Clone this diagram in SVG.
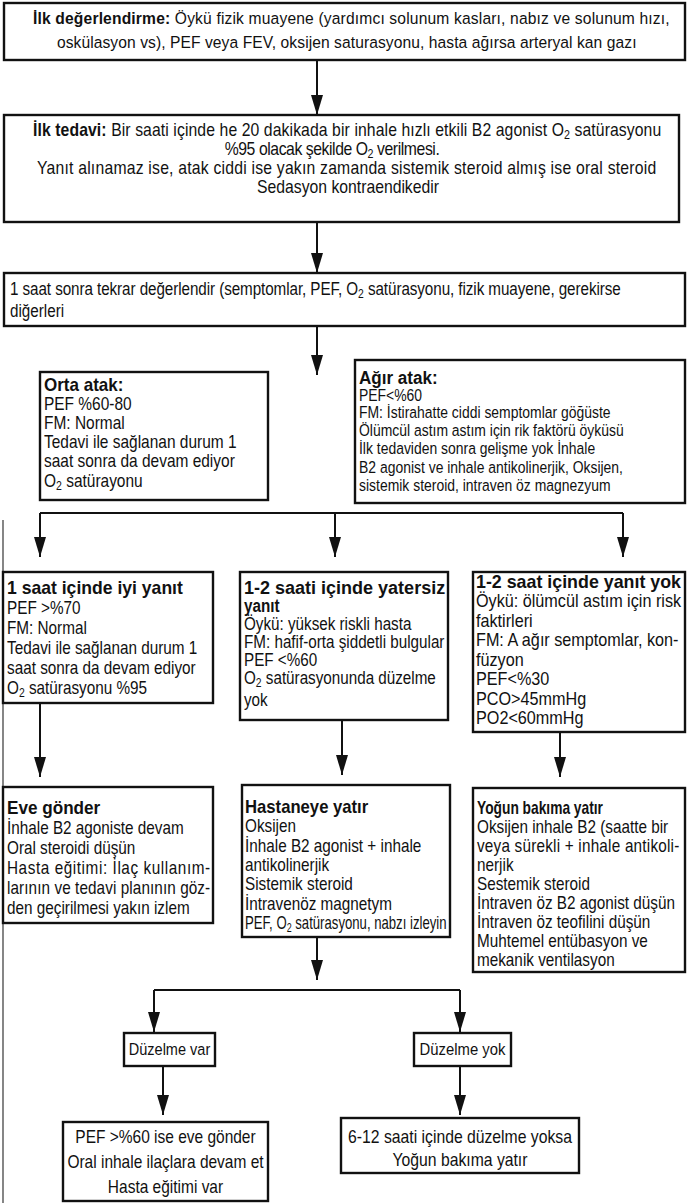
<svg xmlns="http://www.w3.org/2000/svg" width="688" height="1203" viewBox="0 0 688 1203">
  <defs>
    <marker id="arrow" viewBox="0 0 20 12" refX="20" refY="6" markerWidth="20" markerHeight="12" markerUnits="userSpaceOnUse" orient="auto">
      <path d="M0,0 L20,6 L0,12 Z" fill="#111"/>
    </marker>
  </defs>
  <style>
    .box{fill:#fff;stroke:#111;stroke-width:2.4}
    text{font-family:"Liberation Sans",Arial,sans-serif;fill:#111}
    .b{font-weight:bold}
    .sub{font-size:68%;baseline-shift:-3.5px}
    #connectors path{fill:none;stroke:#111;stroke-width:2}
    #connectors path.arr{marker-end:url(#arrow)}
  </style>
  <rect width="688" height="1203" fill="#fff"/>

  <!-- page edge rule on the left -->
  <line x1="3" y1="520" x2="3" y2="1203" stroke="#444" stroke-width="1.3"/>

  <g id="connectors">
    <path class="arr" d="M317,60 V115"/>
    <path class="arr" d="M317,222 V273"/>
    <path class="arr" d="M317,326 V375"/>
    <path d="M40,513 H623"/>
    <path class="arr" d="M40,513 V557"/>
    <path class="arr" d="M335,513 V557"/>
    <path class="arr" d="M623,513 V557"/>
    <path class="arr" d="M40,703 V777"/>
    <path class="arr" d="M342,720 V775"/>
    <path class="arr" d="M560,732 V777"/>
    <path class="arr" d="M317,937 V980"/>
    <path d="M154,990 H460"/>
    <path class="arr" d="M154,990 V1032"/>
    <path class="arr" d="M460,990 V1032"/>
    <path class="arr" d="M163,1066 V1115"/>
    <path class="arr" d="M460,1066 V1115"/>
  </g>

  <!-- text blocks are drawn in a narrowed frame: scale(sx,1) gives the condensed face -->
  <g id="ilk-degerlendirme">
    <rect class="box" x="4" y="3" width="681" height="57"/>
    <g transform="translate(33,0) scale(0.92,1)" font-size="17">
      <text x="0" y="24" textLength="692" lengthAdjust="spacing"><tspan class="b">İlk değerlendirme:</tspan> Öykü fizik muayene (yardımcı solunum kasları, nabız ve solunum hızı,</text>
      <text x="26" y="48" textLength="630" lengthAdjust="spacing">oskülasyon vs), PEF veya FEV, oksijen saturasyonu, hasta ağırsa arteryal kan gazı</text>
    </g>
  </g>

  <g id="ilk-tedavi">
    <rect class="box" x="4" y="115" width="675" height="107"/>
    <g transform="translate(33,0) scale(0.9,1)" font-size="17.5">
      <text x="0" y="136" textLength="698" lengthAdjust="spacing"><tspan class="b">İlk tedavi:</tspan> Bir saati içinde he 20 dakikada bir inhale hızlı etkili B2 agonist O<tspan class="sub">2</tspan> satürasyonu</text>
      <text x="213" y="155" textLength="239" lengthAdjust="spacing">%95 olacak şekilde O<tspan class="sub">2</tspan> verilmesi.</text>
      <text x="4.4" y="174" textLength="688" lengthAdjust="spacing">Yanıt alınamaz ise, atak ciddi ise yakın zamanda sistemik steroid almış ise oral steroid</text>
      <text x="249" y="193">Sedasyon kontraendikedir</text>
    </g>
  </g>

  <g id="tekrar-degerlendir">
    <rect class="box" x="4" y="273" width="681" height="53"/>
    <g transform="translate(10,0) scale(0.87,1)" font-size="17.5">
      <text x="0" y="295" textLength="702" lengthAdjust="spacing">1 saat sonra tekrar değerlendir (semptomlar, PEF, O<tspan class="sub">2</tspan> satürasyonu, fizik muayene, gerekirse</text>
      <text x="0" y="317">diğerleri</text>
    </g>
  </g>

  <g id="orta-atak">
    <rect class="box" x="40" y="372" width="228" height="128"/>
    <g transform="translate(44,0) scale(0.86,1)" font-size="18">
      <text class="b" transform="scale(1.1,1)" x="0" y="391">Orta atak:</text>
      <text x="0" y="410">PEF %60-80</text>
      <text x="0" y="429">FM: Normal</text>
      <text x="0" y="448">Tedavi ile sağlanan durum 1</text>
      <text x="0" y="467">saat sonra da devam ediyor</text>
      <text x="0" y="487">O<tspan class="sub">2</tspan> satürayonu</text>
    </g>
  </g>

  <g id="agir-atak">
    <rect class="box" x="355" y="360" width="330" height="143"/>
    <g transform="translate(359,0) scale(0.82,1)" font-size="17">
      <text class="b" transform="scale(1.19,1)" x="0" y="384" font-size="17.5">Ağır atak:</text>
      <text x="0" y="401">PEF&lt;%60</text>
      <text x="0" y="418">FM: İstirahatte ciddi semptomlar göğüste</text>
      <text x="0" y="436">Ölümcül astım astım için rik faktörü öyküsü</text>
      <text x="0" y="454">İlk tedaviden sonra gelişme yok İnhale</text>
      <text x="0" y="473">B2 agonist ve inhale antikolinerjik, Oksijen,</text>
      <text x="0" y="491">sistemik steroid, intraven öz magnezyum</text>
    </g>
  </g>

  <g id="iyi-yanit">
    <rect class="box" x="3" y="572" width="210" height="131"/>
    <g transform="translate(7,0) scale(0.85,1)" font-size="18">
      <text class="b" transform="scale(1.15,1)" x="0" y="594">1 saat içinde iyi yanıt</text>
      <text x="0" y="614">PEF &gt;%70</text>
      <text x="0" y="634">FM: Normal</text>
      <text x="0" y="654">Tedavi ile sağlanan durum 1</text>
      <text x="0" y="674">saat sonra da devam ediyor</text>
      <text x="0" y="694">O<tspan class="sub">2</tspan> satürasyonu %95</text>
    </g>
  </g>

  <g id="yetersiz-yanit">
    <rect class="box" x="240" y="572" width="208" height="148"/>
    <g transform="translate(244,0) scale(0.87,1)" font-size="17.5">
      <text class="b" transform="scale(1.15,1)" x="0" y="594" font-size="18">1-2 saati içinde yatersiz</text>
      <text class="b" x="0" y="612">yanıt</text>
      <text x="0" y="630">Öykü: yüksek riskli hasta</text>
      <text x="0" y="648">FM: hafif-orta şiddetli bulgular</text>
      <text x="0" y="666">PEF &lt;%60</text>
      <text x="0" y="684">O<tspan class="sub">2</tspan> satürasyonunda düzelme</text>
      <text x="0" y="706">yok</text>
    </g>
  </g>

  <g id="yanit-yok">
    <rect class="box" x="473" y="572" width="212" height="160"/>
    <g transform="translate(476,0) scale(0.9,1)" font-size="18">
      <text class="b" transform="scale(1.1,1)" x="0" y="588">1-2 saat içinde yanıt yok</text>
      <text x="0" y="607">Öykü: ölümcül astım için risk</text>
      <text x="0" y="627">faktirleri</text>
      <text x="0" y="646">FM: A ağır semptomlar, kon-</text>
      <text x="0" y="666">füzyon</text>
      <text x="0" y="685">PEF&lt;%30</text>
      <text x="0" y="705">PCO&gt;45mmHg</text>
      <text x="0" y="724">PO2&lt;60mmHg</text>
    </g>
  </g>

  <g id="eve-gonder">
    <rect class="box" x="3" y="787" width="210" height="136"/>
    <g transform="translate(7,0) scale(0.85,1)" font-size="18">
      <text class="b" transform="scale(1.12,1)" x="0" y="814">Eve gönder</text>
      <text x="0" y="834">İnhale B2 agoniste devam</text>
      <text x="0" y="854">Oral steroidi düşün</text>
      <text x="0" y="874" textLength="239" lengthAdjust="spacing">Hasta eğitimi: İlaç kullanım-</text>
      <text x="0" y="894" textLength="239" lengthAdjust="spacing">larının ve tedavi planının göz-</text>
      <text x="0" y="914">den geçirilmesi yakın izlem</text>
    </g>
  </g>

  <g id="hastaneye-yatir">
    <rect class="box" x="242" y="785" width="208" height="152"/>
    <g transform="translate(245,0) scale(0.85,1)" font-size="18">
      <text class="b" transform="scale(1.09,1)" x="0" y="813">Hastaneye yatır</text>
      <text x="0" y="832">Oksijen</text>
      <text x="0" y="852">İnhale B2 agonist + inhale</text>
      <text x="0" y="871">antikolinerjik</text>
      <text x="0" y="890">Sistemik steroid</text>
      <text x="0" y="910">İntravenöz magnetym</text>
      <text transform="scale(0.86,1)" x="0" y="929">PEF, O<tspan class="sub">2</tspan> satürasyonu, nabzı izleyin</text>
    </g>
  </g>

  <g id="yogun-bakim">
    <rect class="box" x="473" y="788" width="212" height="184"/>
    <g transform="translate(477,0) scale(0.85,1)" font-size="18">
      <text class="b" transform="scale(0.9,1)" x="0" y="814">Yoğun bakıma yatır</text>
      <text x="0" y="833">Oksijen inhale B2 (saatte bir</text>
      <text x="0" y="852" textLength="238" lengthAdjust="spacing">veya sürekli + inhale antikoli-</text>
      <text x="0" y="871">nerjik</text>
      <text x="0" y="890">Sestemik steroid</text>
      <text x="0" y="909">İntraven öz B2 agonist düşün</text>
      <text x="0" y="928">İntraven öz teofilini düşün</text>
      <text x="0" y="947">Muhtemel entübasyon ve</text>
      <text x="0" y="966">mekanik ventilasyon</text>
    </g>
  </g>

  <g id="duzelme-var">
    <rect class="box" x="124" y="1033" width="91" height="33"/>
    <text transform="translate(169.5,1055) scale(0.88,1)" text-anchor="middle" font-size="16.5">Düzelme var</text>
  </g>

  <g id="duzelme-yok">
    <rect class="box" x="414" y="1033" width="97" height="33"/>
    <text transform="translate(462.5,1055) scale(0.9,1)" text-anchor="middle" font-size="16.5">Düzelme yok</text>
  </g>

  <g id="eve-gonder-sonuc">
    <rect class="box" x="63" y="1122" width="205" height="79"/>
    <g transform="translate(165.5,0) scale(0.885,1)" font-size="17.5" text-anchor="middle">
      <text x="0" y="1143">PEF &gt;%60 ise eve gönder</text>
      <text x="0" y="1168">Oral inhale ilaçlara devam et</text>
      <text x="0" y="1193">Hasta eğitimi var</text>
    </g>
  </g>

  <g id="yogun-bakim-sonuc">
    <rect class="box" x="341" y="1118" width="238" height="55"/>
    <g transform="translate(460,0) scale(0.9,1)" font-size="17.5" text-anchor="middle">
      <text x="0" y="1143">6-12 saati içinde düzelme yoksa</text>
      <text x="0" y="1166">Yoğun bakıma yatır</text>
    </g>
  </g>
</svg>
